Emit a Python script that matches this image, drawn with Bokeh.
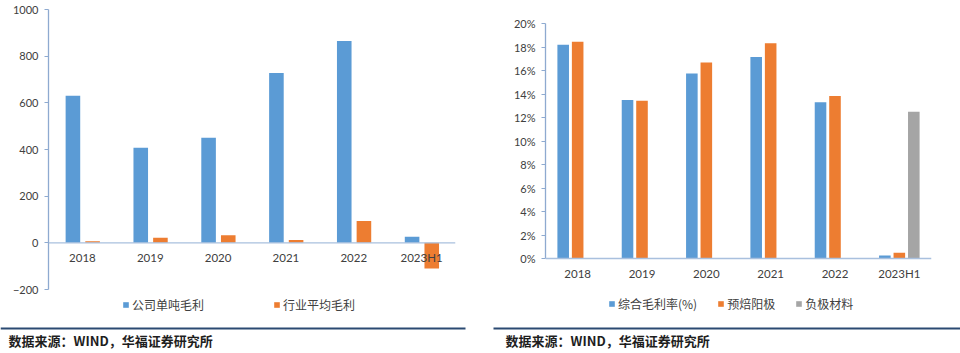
from bokeh.plotting import figure
from bokeh.models import (FactorRange, Range1d, ColumnDataSource, Legend, LegendItem,
                          BoxAnnotation, Span, NumeralTickFormatter, FixedTicker)
from bokeh.transform import dodge
from bokeh.core.properties import value
from bokeh.embed import file_html
from bokeh.resources import INLINE

# ---------------- data ----------------
years = ["2018", "2019", "2020", "2021", "2022", "2023H1"]
company_profit = [630, 407, 450, 728, 865, 26]        # 公司单吨毛利
industry_profit = [7, 22, 33, 12, 94, -110]            # 行业平均毛利
left_ticks = [-200, 0, 200, 400, 600, 800, 1000]

gross_margin = [0.182, 0.135, 0.1575, 0.1715, 0.133, 0.0026]      # 综合毛利率(%)
anode_prebaked = [0.1845, 0.1342, 0.1668, 0.1831, 0.1384, 0.0049]  # 预焙阳极
anode_material = [0, 0, 0, 0, 0, 0.1248]                          # 负极材料
right_ticks = [0, 0.02, 0.04, 0.06, 0.08, 0.10, 0.12, 0.14, 0.16, 0.18, 0.20]

source_text = ["数据来源：WIND，华福证券研究所"]

BLUE = "#5B9BD5"
ORANGE = "#ED7D31"
GRAY = "#A5A5A5"
AXIS = "#8EAAD0"
ZERO = "#A9C0DE"
TXT = "#404040"
NAVY = "#2B4A72"
NUM_FONT = "Lato"
CJK = "Noto Sans CJK SC"


def plain_fig(w, h, xr, yr):
    p = figure(width=w, height=h, x_range=xr, y_range=yr, output_backend="svg",
               toolbar_location=None, min_border=0)
    p.axis.visible = False
    p.grid.visible = False
    p.outline_line_color = None
    p.background_fill_color = "white"
    p.border_fill_color = "white"
    return p


def strip(w, marks):
    p = plain_fig(w, 2, Range1d(0, w), Range1d(0, 2))
    for a, b in marks:
        p.add_layout(BoxAnnotation(left=a, right=b, bottom=0, top=2,
                                   fill_color=NAVY, fill_alpha=1, line_color=None))
    return p


def footer(w, x0, x1, tx):
    p = plain_fig(w, 27, Range1d(0, w), Range1d(27, 0))
    p.add_layout(BoxAnnotation(left=x0, right=x1, top=1, bottom=3,
                               fill_color=NAVY, fill_alpha=1, line_color=None))
    p.text(x=[tx], y=[14], text=source_text, text_font=value(CJK),
           text_font_size="13px", text_font_style="bold", text_color="#1E1E1E",
           text_baseline="middle", text_align="left")
    return p


def chart_fig(fw, fh, bl, br, bt, xr, yr, bounds):
    p = figure(frame_width=fw, frame_height=fh, x_range=xr, y_range=yr,
               output_backend="svg", toolbar_location=None,
               min_border_left=bl, min_border_right=br,
               min_border_top=bt, min_border_bottom=0)
    p.outline_line_color = None
    p.grid.visible = False
    p.xaxis.visible = False
    p.background_fill_color = "white"
    p.border_fill_color = "white"
    yax = p.yaxis[0]
    yax.bounds = bounds
    yax.axis_line_color = AXIS
    yax.axis_line_width = 1.3
    yax.major_tick_line_color = AXIS
    yax.major_tick_out = 4
    yax.major_tick_in = 0
    yax.minor_tick_line_color = None
    yax.major_label_text_font = NUM_FONT
    yax.major_label_text_font_size = "11px"
    yax.major_label_text_color = TXT
    yax.major_label_standoff = 6
    p.add_layout(Span(location=0, dimension="width", line_color=ZERO, line_width=1.3))
    return p


def category_labels(p, src):
    p.text(x="years", y=0, text="years", source=src, y_offset=15,
           text_font=value(NUM_FONT), text_font_size="11.5px", text_color=TXT,
           text_align="center", text_baseline="middle")


def make_legend(items, loc, spacing):
    return Legend(items=items, orientation="horizontal", location=loc,
                  label_text_font=CJK, label_text_font_size="12px", label_text_color=TXT,
                  glyph_width=7, glyph_height=7, spacing=spacing, padding=0, margin=0,
                  label_height=16, label_standoff=3, border_line_color=None,
                  background_fill_alpha=0)


# ---------------- left chart ----------------
src_l = ColumnDataSource(dict(years=years, company=company_profit, industry=industry_profit))
pl = chart_fig(407, 317, 48, 25, 7, FactorRange(*years, range_padding=0),
               Range1d(-358.57, 1000), (-200, 1000))
pl.yaxis[0].ticker = FixedTicker(ticks=left_ticks)

r1 = pl.vbar(x=dodge("years", -0.14, range=pl.x_range), top="company", bottom=0,
             width=0.215, source=src_l, fill_color=BLUE, line_color=None)
r2 = pl.vbar(x=dodge("years", 0.15, range=pl.x_range), top="industry", bottom=0,
             width=0.215, source=src_l, fill_color=ORANGE, line_color=None)
category_labels(pl, src_l)
pl.add_layout(make_legend([LegendItem(label="公司单吨毛利", renderers=[r1]),
                           LegendItem(label="行业平均毛利", renderers=[r2])], (74, 13), 69))

# ---------------- right chart ----------------
src_r = ColumnDataSource(dict(years=years, gm=gross_margin, pb=anode_prebaked, am=anode_material))
pr = chart_fig(386, 303, 65, 29, 21, FactorRange(*years, range_padding=0),
               Range1d(-0.05787, 0.20), (0, 0.20))
pr.yaxis[0].ticker = FixedTicker(ticks=right_ticks)
pr.yaxis[0].formatter = NumeralTickFormatter(format="0%")

b1 = pr.vbar(x=dodge("years", -0.225, range=pr.x_range), top="gm", bottom=0, width=0.18,
             source=src_r, fill_color=BLUE, line_color=None)
b2 = pr.vbar(x=dodge("years", 0.0, range=pr.x_range), top="pb", bottom=0, width=0.18,
             source=src_r, fill_color=ORANGE, line_color=None)
b3 = pr.vbar(x=dodge("years", 0.225, range=pr.x_range), top="am", bottom=0, width=0.18,
             source=src_r, fill_color=GRAY, line_color=None)
category_labels(pr, src_r)
pr.add_layout(make_legend([LegendItem(label="综合毛利率(%)", renderers=[b1]),
                           LegendItem(label="预焙阳极", renderers=[b2]),
                           LegendItem(label="负极材料", renderers=[b3])], (63, 14), 20))

roots = [strip(480, [(0, 464)]), strip(480, [(13, 16), (472, 480)]),
         pl, pr,
         footer(480, 0, 465, 8), footer(480, 13, 480, 25)]

html = file_html(roots, INLINE, title="chart")
css = ("<style>html,body{margin:0;padding:0;background:white;}"
       "body{display:grid;grid-template-columns:480px 480px;"
       "grid-auto-rows:min-content;row-gap:0;column-gap:0;align-items:start;}</style>")
html = html.replace("</head>", css + "</head>", 1)
open("out.html", "w").write(html)
